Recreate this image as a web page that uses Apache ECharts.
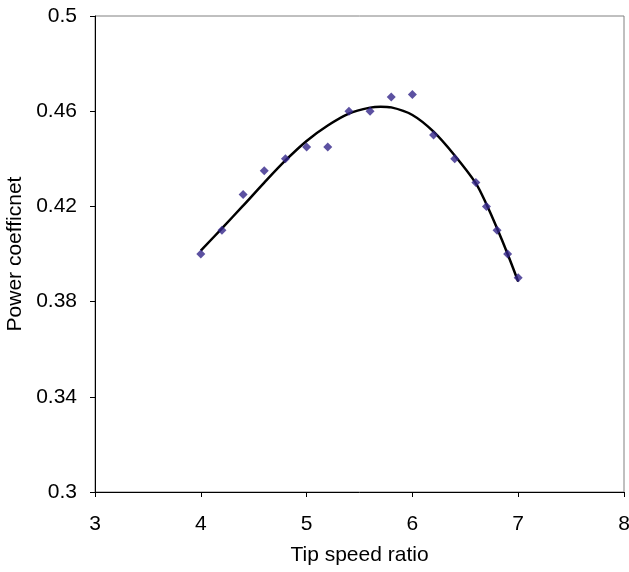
<!DOCTYPE html>
<html>
<head>
<meta charset="utf-8">
<script src="https://cdn.jsdelivr.net/npm/echarts@6/dist/echarts.min.js"></script>
<style>html,body{margin:0;padding:0;background:#fff}#c{width:629px;height:572px}</style>
</head>
<body>
<div id="c"></div>
<script>
// Measured points
const tsr = [4.0, 4.2, 4.4, 4.6, 4.8, 5.0, 5.2, 5.4, 5.6, 5.8, 6.0, 6.2, 6.4, 6.6, 6.7, 6.8, 6.9, 7.0];
const cp  = [0.400, 0.410, 0.425, 0.435, 0.440, 0.445, 0.445, 0.460, 0.460, 0.466, 0.467, 0.450, 0.440, 0.430, 0.420, 0.410, 0.400, 0.390];
// Trend line
const trendX = [4.0, 4.2, 4.4, 4.6, 4.8, 5.0, 5.2, 5.4, 5.6, 5.7, 5.8, 6.0, 6.2, 6.4, 6.6, 6.7, 6.8, 6.9, 7.0];
const trendY = [0.4014, 0.4108, 0.4203, 0.4300, 0.4393, 0.4475, 0.4540, 0.4590, 0.4615, 0.4619, 0.4616, 0.4584, 0.4514, 0.4414, 0.4297, 0.4209, 0.4108, 0.4000, 0.3884];
const xTicks = [3, 4, 5, 6, 7, 8];
const yTicks = [0.3, 0.34, 0.38, 0.42, 0.46, 0.5];

const font = 'Liberation Sans, Arial, sans-serif';
const chart = echarts.init(document.getElementById('c'), null, {renderer: 'canvas'});
chart.setOption({
  animation: false,
  backgroundColor: '#fff',
  grid: {left: 95, top: 16, right: 5, bottom: 80, containLabel: false, outerBoundsMode: 'none',
    show: true, borderColor: '#808080', borderWidth: 1},
  xAxis: {
    type: 'value', min: xTicks[0], max: xTicks[xTicks.length - 1], interval: 1,
    name: 'Tip speed ratio', nameLocation: 'middle', nameGap: 53,
    nameTextStyle: {fontFamily: font, fontSize: 21, color: '#000'},
    axisLine: {show: true, onZero: false, lineStyle: {color: '#000', width: 1}},
    axisTick: {show: true, inside: false, length: 5, lineStyle: {color: '#000'}},
    axisLabel: {fontFamily: font, fontSize: 21, color: '#000', margin: 22},
    splitLine: {show: false}
  },
  yAxis: {
    type: 'value', min: yTicks[0], max: yTicks[yTicks.length - 1], interval: 0.04,
    name: 'Power coefficnet', nameLocation: 'middle', nameGap: 68, nameRotate: 90,
    nameTextStyle: {fontFamily: font, fontSize: 21, color: '#000'},
    axisLine: {show: true, onZero: false, lineStyle: {color: '#000', width: 1}},
    axisTick: {show: true, inside: false, length: 5, lineStyle: {color: '#000'}},
    axisLabel: {fontFamily: font, fontSize: 21, color: '#000', margin: 18,
      formatter: v => String(Math.round(v * 100) / 100)},
    splitLine: {show: false}
  },
  series: [
    {
      type: 'line', data: trendX.map((x, i) => [x, trendY[i]]),
      smooth: 0.3, showSymbol: false, symbol: 'none',
      lineStyle: {color: '#000', width: 2.5}, z: 2
    },
    {
      type: 'scatter', data: tsr.map((x, i) => [x, cp[i]]),
      symbol: 'diamond', symbolSize: 9,
      itemStyle: {color: '#33268a'}, z: 3
    }
  ]
});
</script>
</body>
</html>
